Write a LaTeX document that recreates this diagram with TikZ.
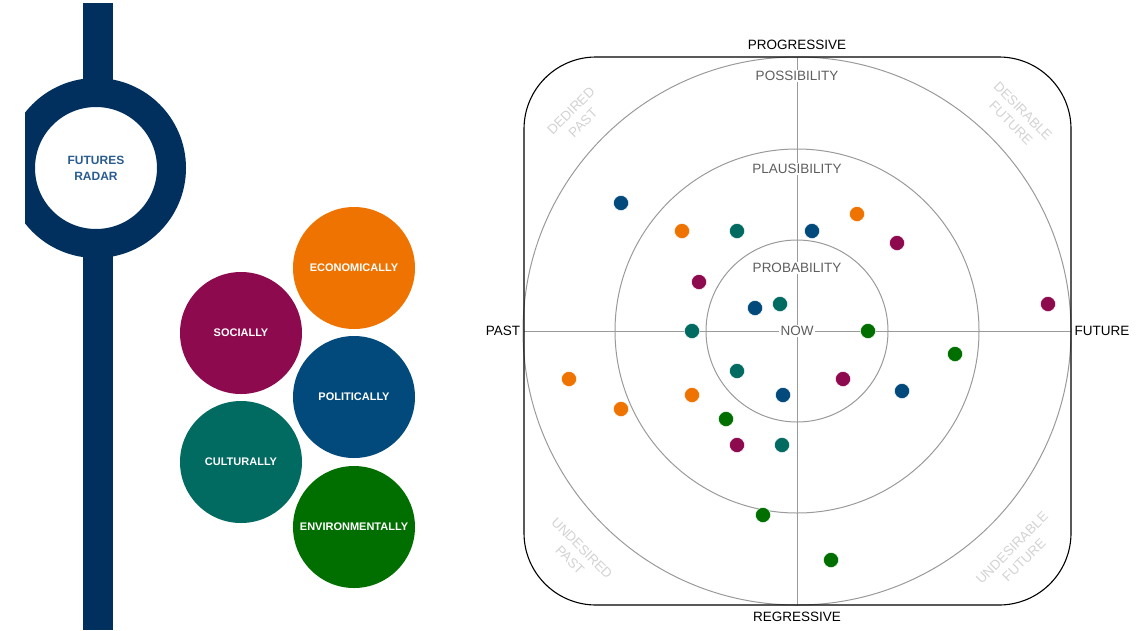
\documentclass[tikz,border=0pt]{standalone}
\usepackage{fontspec}
\setmainfont{Liberation Sans}
\usepackage{tikz}
\usetikzlibrary{
  calc,
}
\definecolor{radarNavy}{HTML}{02305E}
\definecolor{radarTitle}{HTML}{2B5C90}
\definecolor{econCol}{HTML}{EF7300}
\definecolor{socialCol}{HTML}{8D0A4E}
\definecolor{politCol}{HTML}{034A7C}
\definecolor{culturCol}{HTML}{016A61}
\definecolor{environCol}{HTML}{006F00}
\definecolor{ringLine}{HTML}{9A9A9A}
\definecolor{ringText}{HTML}{5E5E5E}
\definecolor{cornerText}{HTML}{D2D2D2}

\tikzset{
  domainbox/.style={circle, minimum size=122pt, inner sep=0pt, text=white,
    font=\fontsize{11}{13}\selectfont\bfseries},
  axislabel/.style={inner sep=1pt, text=black,
    font=\fontsize{13.5}{15}\selectfont},
  ringlabel/.style={inner sep=1.5pt, fill=white, text=ringText,
    font=\fontsize{13.5}{15}\selectfont},
  cornerlabel/.style={inner sep=0pt, align=center, text=cornerText,
    font=\fontsize{13.5}{17}\selectfont},
  radardot/.style={circle, minimum size=15pt, inner sep=0pt,
    draw=white, line width=0.4pt},
}

\begin{document}
\begin{tikzpicture}[x=1pt, y=-1pt]

\useasboundingbox (0,0) rectangle (1145,630);

% timeline bar with the title ring
\fill[radarNavy] (83,3) rectangle (113,630);
\begin{scope}
  \clip (25,0) rectangle (220,630);
  \node[circle, draw=radarNavy, fill=white, line width=29pt,
        minimum size=151pt, inner sep=0pt, align=center,
        text=radarTitle, font=\fontsize{12}{16}\selectfont\bfseries]
    (title) at (96,168) {FUTURES\\RADAR};
\end{scope}

% the five domains
\node[domainbox, fill=econCol]    (econ)    at (354,268) {ECONOMICALLY};
\node[domainbox, fill=socialCol]  (social)  at (241,333) {SOCIALLY};
\node[domainbox, fill=politCol]   (polit)   at (354,397) {POLITICALLY};
\node[domainbox, fill=culturCol]  (cultur)  at (241,462) {CULTURALLY};
\node[domainbox, fill=environCol] (environ) at (354,527) {ENVIRONMENTALLY};

% radar frame, rings and axes
\coordinate (now)   at (797,331);
\coordinate (west)  at (524,331);
\coordinate (east)  at (1071,331);
\coordinate (north) at (797,57);
\coordinate (south) at (797,605);

\foreach \r in {91,182,274}
  \draw[ringLine, line width=1pt] (now) circle (\r pt);
\draw[ringLine, line width=1pt] (west) -- (east);
\draw[ringLine, line width=1pt] (north) -- (south);
\draw[black, line width=1.1pt, rounded corners=72pt]
  (524,57) rectangle (1071,605);

% ring names
\node[ringlabel] (possib) at (797,76)  {POSSIBILITY};
\node[ringlabel] (plausib) at (797,169) {PLAUSIBILITY};
\node[ringlabel] (probab) at (797,268) {PROBABILITY};
\node[ringlabel] (nowlbl) at (now)     {NOW};

% axis names
\node[axislabel] (progr)  at (797,45)  {PROGRESSIVE};
\node[axislabel] (regr)   at (797,617) {REGRESSIVE};
\node[axislabel] (past)   at (503,331) {PAST};
\node[axislabel] (future) at (1102,331) {FUTURE};

% corner names
\node[cornerlabel, rotate=45]  (dpast) at (577,117)  {DEDIRED\\PAST};
\node[cornerlabel, rotate=-45] (dfut)  at (1017,117) {DESIRABLE\\FUTURE};
\node[cornerlabel, rotate=-45] (upast) at (576,554)  {UNDESIRED\\PAST};
\node[cornerlabel, rotate=45]  (ufut)  at (1018,554) {UNDESIRABLE\\FUTURE};

% signals
\foreach \x/\y/\col [count=\i] in {%
  621/203/politCol, 682/231/econCol, 737/231/culturCol,
  812/231/politCol, 857/214/econCol, 897/243/socialCol,
  699/282/socialCol, 755/308/politCol, 780/304/culturCol,
  1048/304/socialCol, 692/331/culturCol, 868/331/environCol,
  955/354/environCol, 569/379/econCol, 737/371/culturCol,
  843/379/socialCol, 902/391/politCol, 621/409/econCol,
  692/395/econCol, 783/395/politCol, 726/419/environCol,
  737/445/socialCol, 782/445/culturCol, 763/515/environCol,
  831/560/environCol%
}
{
  \node[radardot, fill=\col] (sig\i) at (\x,\y) {};
}

\end{tikzpicture}
\end{document}
